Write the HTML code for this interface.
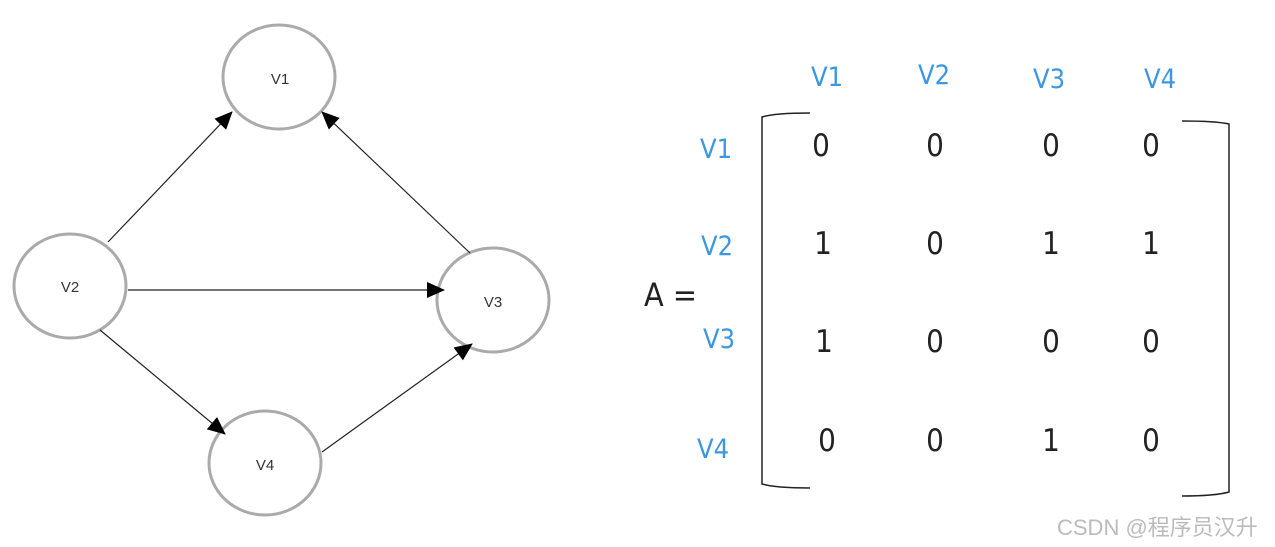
<!DOCTYPE html>
<html><head><meta charset="utf-8"><style>
html,body{margin:0;padding:0;background:#fff;width:1275px;height:547px;overflow:hidden}
</style></head><body>
<svg width="1275" height="547" viewBox="0 0 1275 547" xmlns="http://www.w3.org/2000/svg">
<defs>
<marker id="b" markerWidth="18" markerHeight="16" refX="17" refY="8" orient="auto" markerUnits="userSpaceOnUse"><path d="M0,0 L18,8 L0,16 z" fill="#000"/></marker></defs>
<g fill="#fff" stroke="#aaa" stroke-width="3">
<ellipse cx="279" cy="77" rx="56" ry="52"/>
<ellipse cx="70" cy="286" rx="56" ry="52"/>
<ellipse cx="493" cy="300" rx="56" ry="52"/>
<ellipse cx="265" cy="463" rx="56" ry="52"/>
</g>
<g stroke="#222" stroke-width="1.2" marker-end="url(#b)">
<line x1="108" y1="242" x2="232" y2="112"/>
<line x1="470" y1="253" x2="322" y2="112"/>
<line x1="128" y1="290" x2="444" y2="290"/>
<line x1="100" y1="330" x2="225" y2="434"/>
<line x1="322" y1="452" x2="472" y2="344"/>
</g>
<g font-family="Liberation Sans, sans-serif" font-size="15" fill="#333" text-anchor="middle">
<text x="280" y="84">V1</text><text x="70" y="292">V2</text><text x="493" y="307">V3</text><text x="265" y="470">V4</text>
</g>
<g font-family="DejaVu Sans Condensed, DejaVu Sans, Liberation Sans, sans-serif" font-size="27" fill="#3d97e0" text-anchor="middle">
<text x="827" y="86">V1</text><text x="934" y="84">V2</text><text x="1049" y="88">V3</text><text x="1160" y="88">V4</text>
<text x="716" y="158">V1</text><text x="717" y="255">V2</text><text x="719" y="348">V3</text><text x="713" y="458">V4</text>
</g>
<text x="644" y="306" font-family="DejaVu Sans Condensed, DejaVu Sans, Liberation Sans, sans-serif" font-size="32" fill="#222">A =</text>
<g font-family="DejaVu Sans Condensed, DejaVu Sans, Liberation Sans, sans-serif" font-size="31" fill="#222" text-anchor="middle">
<text x="821" y="156">0</text><text x="935" y="156">0</text><text x="1051" y="156">0</text><text x="1151" y="156">0</text>
<text x="823" y="254">1</text><text x="935" y="254">0</text><text x="1051" y="254">1</text><text x="1151" y="254">1</text>
<text x="824" y="352">1</text><text x="935" y="352">0</text><text x="1051" y="352">0</text><text x="1151" y="352">0</text>
<text x="827" y="451">0</text><text x="935" y="451">0</text><text x="1051" y="451">1</text><text x="1151" y="451">0</text>
</g>
<g fill="none" stroke="#222" stroke-width="1.5">
<path d="M810,113 Q775,113 762,117 L762,484 Q775,488 810,488"/>
<path d="M1182,121 Q1215,121 1229,124 L1229,492 Q1215,496 1182,496"/>
</g>
<text x="1057" y="535" font-family="Liberation Sans, Noto Sans CJK SC, sans-serif" font-size="22" fill="#bbb">CSDN @程序员汉升</text>
</svg>
</body></html>
